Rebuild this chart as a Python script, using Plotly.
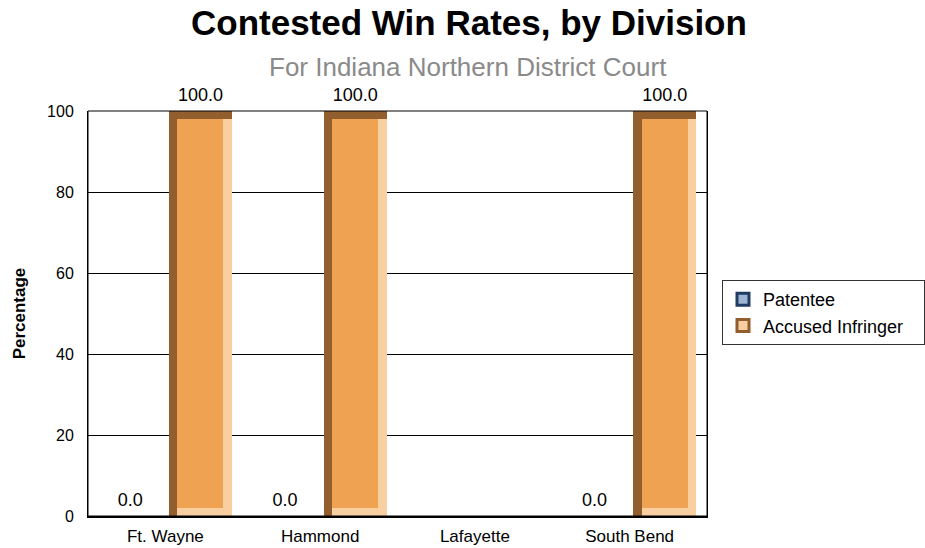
import plotly.graph_objects as go

categories = ["Ft. Wayne", "Hammond", "Lafayette", "South Bend"]
patentee = [0.0, 0.0, None, 0.0]
accused = [100.0, 100.0, None, 100.0]
y_ticks = [0, 20, 40, 60, 80, 100]

FONT = "Liberation Sans, Arial, sans-serif"
xpos = list(range(len(categories)))

# bar geometry (style)
GAP = 0.023
W = 0.407
BX = 0.055   # bevel width in category units
BY = 2.0     # bevel height in value units

A_DARK, A_MID, A_LIGHT = "#925E2E", "#EFA352", "#F8CFA0"
P_DARK, P_MID, P_LIGHT = "#1F3C64", "#5F7FA8", "#9DB4D3"

# figure pixel layout
FW, FH = 925, 548
ML, MR, MT, MB = 88, 218, 111, 32
plot_w = FW - ML - MR
plot_h = FH - MT - MB


def fmt(v):
    return "" if v is None else f"{v:.1f}"


fig = go.Figure()

# Patentee bars (left of centre)
fig.add_trace(go.Bar(
    x=xpos, y=patentee, base=0, offset=-(GAP + W), width=W,
    marker=dict(color=P_MID, line=dict(width=0)),
    showlegend=False, hoverinfo="skip"))

# Accused Infringer: bevelled bars built from overlaid layers
fig.add_trace(go.Bar(
    x=xpos, y=accused, base=0, offset=GAP, width=W,
    marker=dict(color=A_DARK, line=dict(width=0)),
    showlegend=False, hoverinfo="skip"))
fig.add_trace(go.Bar(
    x=xpos, y=[None if v is None else v - BY for v in accused], base=0,
    offset=GAP + BX, width=W - BX,
    marker=dict(color=A_LIGHT, line=dict(width=0)),
    showlegend=False, hoverinfo="skip"))
fig.add_trace(go.Bar(
    x=xpos, y=[None if v is None else v - 2 * BY for v in accused], base=BY,
    offset=GAP + BX, width=W - 2 * BX,
    marker=dict(color=A_MID, line=dict(width=0)),
    showlegend=False, hoverinfo="skip"))

# value labels above bar ends
for vals, shift in ((patentee, -(GAP + W / 2)), (accused, GAP + W / 2)):
    fig.add_trace(go.Scatter(
        x=[p + shift for p in xpos], y=vals, mode="markers+text",
        marker=dict(size=7, color="rgba(0,0,0,0)"),
        text=[fmt(v) for v in vals], textposition="top center",
        textfont=dict(size=18, color="black", family=FONT),
        cliponaxis=False, showlegend=False, hoverinfo="skip"))

# legend entries
NB = "\u00a0" * 3
fig.add_trace(go.Bar(
    x=[None], y=[None], name="Patentee" + NB,
    marker=dict(color=P_LIGHT, line=dict(color=P_DARK, width=3))))
fig.add_trace(go.Bar(
    x=[None], y=[None], name="Accused Infringer" + NB,
    marker=dict(color=A_LIGHT, line=dict(color=A_DARK, width=3))))

fig.update_layout(
    width=FW, height=FH,
    margin=dict(l=ML, r=MR, t=MT, b=MB, pad=0, autoexpand=False),
    paper_bgcolor="white", plot_bgcolor="white",
    barmode="overlay", bargap=0,
    font=dict(family=FONT, size=18, color="black"),
    showlegend=True,
    legend=dict(x=(722 - ML) / plot_w, y=(FH - MB - 280) / plot_h,
                xanchor="left", yanchor="top",
                bgcolor="white", bordercolor="#333333", borderwidth=1,
                font=dict(size=18, family=FONT, color="black"),
                itemwidth=30, tracegroupgap=0),
)

fig.add_annotation(text="<b>Contested Win Rates, by Division</b>",
                   x=(469 - ML) / plot_w, y=(FH - MB - 22) / plot_h,
                   xref="paper", yref="paper", xanchor="center", yanchor="middle",
                   showarrow=False, font=dict(size=35, family=FONT, color="black"))
fig.add_annotation(text="For Indiana Northern District Court",
                   x=(468 - ML) / plot_w, y=(FH - MB - 67) / plot_h,
                   xref="paper", yref="paper", xanchor="center", yanchor="middle",
                   showarrow=False, font=dict(size=26, family=FONT, color="#8a8a8a"))

fig.update_xaxes(range=[-0.5, len(categories) - 0.5], tickvals=xpos, ticktext=categories,
                 showgrid=False, zeroline=False, showline=True, linecolor="black",
                 linewidth=2, mirror=False, ticks="", ticklabelstandoff=4,
                 tickfont=dict(size=17, family=FONT), fixedrange=True)
fig.update_yaxes(range=[0, 100], tickvals=y_ticks, showgrid=True, gridcolor="black",
                 gridwidth=1, zeroline=False, showline=True, linecolor="black",
                 linewidth=1, mirror=True, ticks="", ticklabelstandoff=10,
                 tickfont=dict(size=16, family=FONT), fixedrange=True,
                 title=dict(text="<b>Percentage</b>", font=dict(size=17, family=FONT),
                            standoff=17))
# top/right border
fig.add_shape(type="rect", xref="paper", yref="paper", x0=0, y0=0, x1=1, y1=1,
              line=dict(color="black", width=1), fillcolor="rgba(0,0,0,0)", layer="above")

fig.write_html("out.html", config={"displayModeBar": False},
               post_script="document.body.style.margin='0px';")
